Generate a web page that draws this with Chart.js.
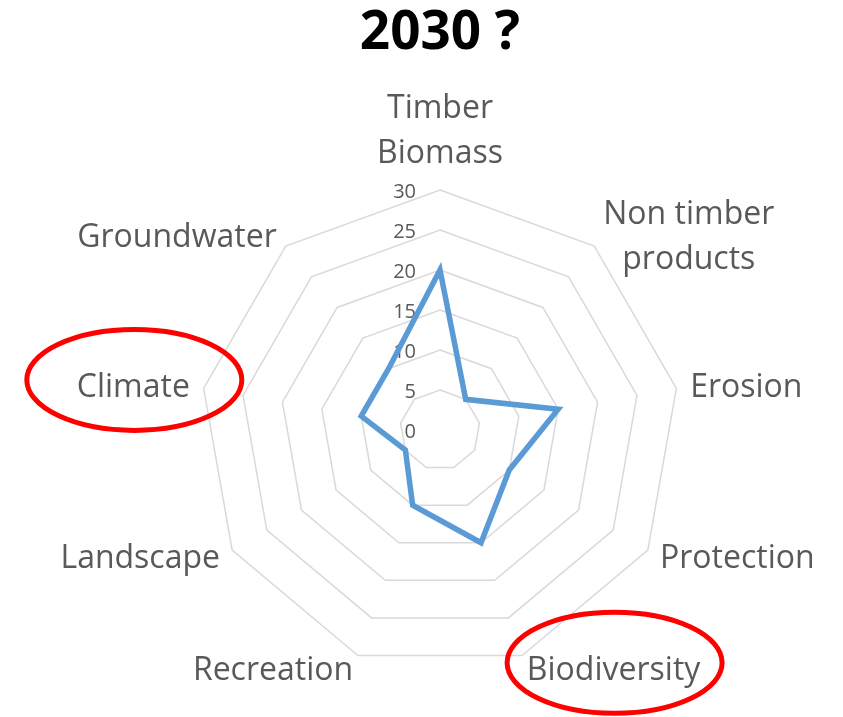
<!DOCTYPE html>
<html><head><meta charset="utf-8">
<script src="https://cdn.jsdelivr.net/npm/chart.js@4"></script>
<style>html,body{margin:0;padding:0;background:#fff}#wrap{width:843px;height:717px;position:relative}</style>
</head><body><div id="wrap"><canvas id="c"></canvas></div>
<script>
const titleText = '2030 ?';
const categories = [['Timber','Biomass'],['Non timber','products'],'Erosion','Protection','Biodiversity','Recreation','Landscape','Climate','Groundwater'];
const values2030 = [20, 5, 15, 10, 15, 10, 5, 10, 10];
const tickValues = [0, 5, 10, 15, 20, 25, 30];
const circledCategories = ['Climate', 'Biodiversity'];

const FONT = "'Open Sans', sans-serif";
const TEXT_COLOR = '#595959';

const tickPlugin = {
  id: 'excelTicks',
  beforeDatasetsDraw(chart) {
    const s = chart.scales.r;
    const ctx = chart.ctx;
    ctx.save();
    const size = 20;
    ctx.font = size + 'px ' + FONT;
    ctx.fillStyle = TEXT_COLOR;
    ctx.textAlign = 'right';
    ctx.textBaseline = 'alphabetic';
    tickValues.forEach(v => {
      const d = s.getDistanceFromCenterForValue(v);
      ctx.fillText(String(v), s.xCenter - 24, s.yCenter - d + 1 + 0.714 * size / 2);
    });
    ctx.restore();
  }
};

const labelPlugin = {
  id: 'excelLabels',
  afterDraw(chart) {
    const s = chart.scales.r;
    const ctx = chart.ctx;
    ctx.save();
    const size = 32, lh = 45, cap = 0.714 * size;
    ctx.font = size + 'px ' + FONT;
    ctx.fillStyle = TEXT_COLOR;
    ctx.textBaseline = 'alphabetic';
    const R = s.drawingArea + 14;
    const n = chart.data.labels.length;
    chart.data.labels.forEach((lab, i) => {
      const lines = Array.isArray(lab) ? lab : [lab];
      const p = s.getPointPosition(i, R);
      const w = Math.max(...lines.map(l => ctx.measureText(l).width));
      const ang = Math.round((i * 360 / n) % 360);
      let left;
      if (ang === 0 || ang === 180) left = p.x - w / 2;
      else if (ang < 180) left = p.x;
      else left = p.x - w;
      let firstBase;
      if (ang === 0) firstBase = p.y - 13 - lh * (lines.length - 1);
      else firstBase = p.y + cap / 2 - lh * (lines.length - 1) / 2;
      ctx.textAlign = 'center';
      lines.forEach((l, k) => ctx.fillText(l, left + w / 2, firstBase + k * lh));
      const name = lines.join(' ');
      if (circledCategories.includes(name)) {
        ctx.save();
        ctx.strokeStyle = '#FF0000';
        ctx.lineWidth = 5;
        ctx.beginPath();
        ctx.ellipse(left + w / 2 + 1, p.y - 6, 107.5, 50.5, 0, 0, Math.PI * 2);
        ctx.stroke();
        ctx.restore();
      }
    });
    ctx.restore();
  }
};

new Chart(document.getElementById('c'), {
  type: 'radar',
  data: {
    labels: categories,
    datasets: [{
      label: '2030',
      data: values2030,
      borderColor: '#5B9BD5',
      backgroundColor: 'rgba(0,0,0,0)',
      borderWidth: 5.5,
      pointRadius: 0,
      pointHoverRadius: 0,
      fill: false,
      tension: 0
    }]
  },
  options: {
    responsive: true,
    maintainAspectRatio: false,
    animation: false,
    events: [],
    layout: { padding: { left: 200, right: 163, top: 0, bottom: 47 } },
    plugins: {
      legend: { display: false },
      tooltip: { enabled: false },
      title: {
        display: true,
        text: titleText,
        color: '#000000',
        font: { family: FONT, size: 53, weight: 'bold', lineHeight: 1.2 },
        padding: { top: 2, bottom: 124.4 }
      }
    },
    scales: {
      r: {
        min: 0,
        max: 30,
        ticks: { display: false, stepSize: 5 },
        pointLabels: { display: false },
        angleLines: { display: false },
        grid: { color: '#D9D9D9', lineWidth: 1.5 }
      }
    }
  },
  plugins: [tickPlugin, labelPlugin]
});
</script>
</body></html>
